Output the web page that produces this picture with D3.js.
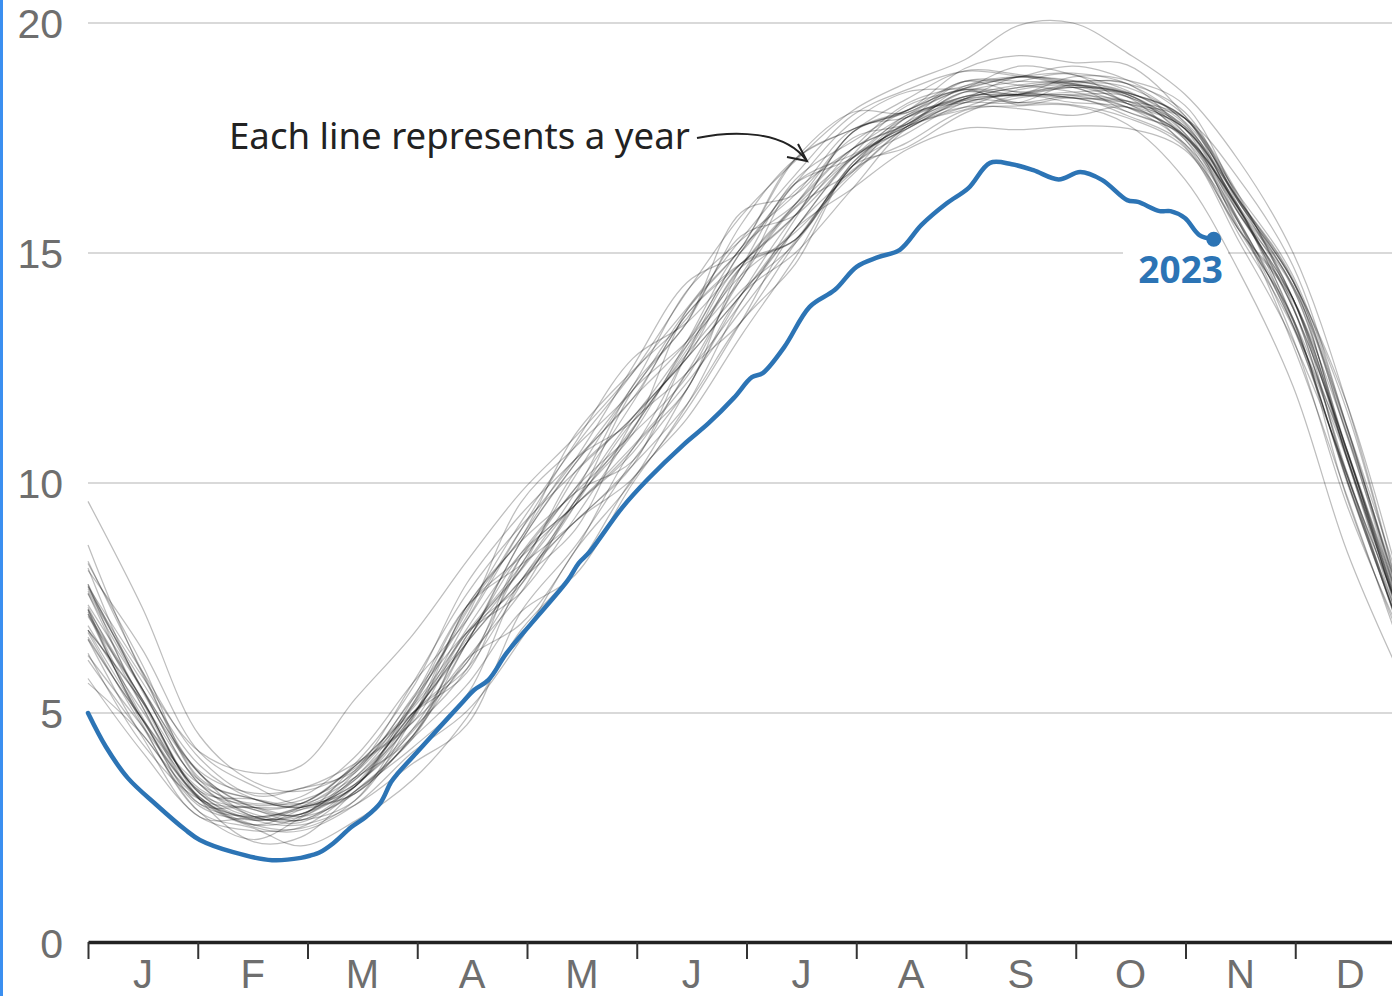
<!DOCTYPE html>
<html><head><meta charset="utf-8">
<script src="https://cdn.jsdelivr.net/npm/d3@7"></script>
<style>html,body{margin:0;padding:0;background:#fff;overflow:hidden}</style>
</head><body><svg id="chart" width="1392" height="996"></svg>
<script>
// ---- DATA ----
const sampleDays = [0,15,31,46,59,74,90,105,120,135,151,166,181,196,212,227,243,258,273,288,304,319,334,349,365];
const monthLabels = ["J","F","M","A","M","J","J","A","S","O","N","D"];
const yTicks = [0,5,10,15,20];

const y1987 = [9.6,7.3,4.5,3.5,3.3,3.8,5.1,6.6,8.1,9.6,11.2,12.9,14.7,16.0,17.1,17.7,18.35,18.6,18.7,18.6,17.85,16.25,14.5,11.2,7.0];
const y1988 = [7.7,5.8,4.15,3.7,3.85,5.3,6.7,8.3,9.8,11.0,12.4,13.8,15.3,16.7,18.0,18.55,18.95,18.85,18.75,18.5,17.8,15.9,13.8,10.7,6.9];
const y1989 = [6.9,5.05,3.35,3.0,3.1,3.7,5.2,7.2,9.15,10.8,12.4,14.16,15.8,17.0,18.1,18.7,19.2,19.95,20.0,19.35,18.45,17.0,15.0,11.7,7.1];
const y1990 = [7.2,4.85,3.15,2.7,2.8,3.4,4.9,6.83,8.47,9.52,10.8,12.18,13.75,15.26,16.81,17.4,18.1,18.2,18.2,17.8,16.6,14.6,12.1,8.5,5.6];
const y1991 = [7.8,5.53,3.45,2.8,2.67,3.1,4.9,7.32,8.81,11.05,12.44,13.58,15.37,15.82,17.07,17.75,18.17,18.55,18.65,18.48,17.93,16.2,14.0,10.5,6.5];
const y1992 = [6.6,4.49,2.74,2.72,2.62,3.4,5.0,5.96,7.79,9.52,12.02,13.49,15.62,17.04,17.69,18.1,18.73,18.65,18.5,18.17,17.37,15.4,13.37,10.15,6.9];
const y1993 = [8.25,6.06,3.58,3.13,2.95,3.45,4.6,6.18,6.94,8.53,10.75,12.04,14.69,16.06,17.5,17.8,18.5,18.27,18.42,18.3,17.75,16.15,14.38,11.7,7.4];
const y1994 = [7.15,5.3,3.12,2.2,2.3,3.3,4.45,6.53,8.47,9.79,10.48,12.4,13.5,15.21,16.9,17.85,18.35,18.83,18.73,18.68,17.6,16.0,13.52,10.05,6.5];
const y1995 = [6.3,4.34,3.12,2.95,3.03,3.85,5.15,6.75,8.22,10.15,12.02,13.08,14.52,15.45,16.71,17.75,18.5,18.45,18.83,18.76,18.21,16.15,14.23,10.7,6.75];
const y1996 = [7.6,5.25,3.25,2.67,2.95,3.75,5.65,7.59,9.07,10.24,11.43,12.72,14.09,15.53,17.14,18.2,18.58,19.06,18.88,18.53,17.7,15.5,13.57,9.65,6.35];
const y1997 = [5.75,4.16,2.74,2.44,2.52,3.3,4.25,5.39,7.88,9.16,10.39,12.81,14.77,15.29,16.9,17.3,18.04,18.42,18.27,18.17,17.55,15.95,14.0,10.05,6.55];
const y1998 = [8.65,5.86,3.68,2.95,2.8,3.7,5.3,6.75,7.62,9.25,11.16,12.99,15.03,16.51,17.86,18.5,18.58,18.83,18.6,18.25,17.93,16.6,14.71,11.2,7.1];
const y1999 = [7.35,5.53,3.73,3.26,3.36,3.9,4.8,6.1,7.88,9.52,11.34,12.4,13.92,15.74,17.63,18.1,18.55,18.22,18.37,17.99,17.37,15.65,13.14,9.5,6.5];
const y2000 = [6.8,5.25,3.25,2.67,2.57,3.0,3.9,4.74,7.2,8.62,10.48,12.04,14.09,15.0,16.41,17.7,18.12,18.37,18.5,18.45,17.47,15.5,13.95,10.7,7.1];
const y2001 = [7.65,5.68,3.86,3.13,2.98,3.55,5.0,6.53,8.73,10.42,12.11,14.18,15.28,16.27,17.69,17.95,18.4,18.45,18.42,18.17,17.55,15.95,14.28,11.15,6.9];
const y2002 = [6.25,4.72,3.17,2.57,2.9,3.4,5.3,7.32,8.22,9.16,10.39,11.71,13.5,14.76,16.97,17.8,18.5,18.73,18.88,18.25,17.7,15.7,13.42,10.5,6.85];
const y2003 = [8.1,6.39,4.14,3.41,3.03,3.6,4.5,6.68,8.13,10.24,11.43,12.99,14.43,16.51,17.14,17.75,18.17,18.14,17.99,18.17,17.52,15.85,14.0,11.05,7.2];
const y2004 = [7.25,4.92,3.02,2.75,2.9,3.25,4.45,5.61,7.2,8.0,10.0,11.6,13.5,15.53,16.77,17.95,18.35,18.42,18.37,18.3,17.93,16.1,14.38,11.55,7.05];
const y2005 = [6.65,4.87,3.45,3.03,3.18,4.05,5.65,7.02,8.98,10.87,12.71,13.49,14.77,15.82,17.27,18.25,18.63,18.83,18.91,18.68,17.83,15.95,13.8,10.15,6.55];
const y2006 = [7.8,5.15,3.12,2.72,2.75,3.55,4.85,7.32,8.73,9.79,11.16,13.76,15.11,17.04,18.06,18.05,18.73,18.5,18.65,18.4,17.32,15.65,13.57,10.55,6.7];
const y2007 = [6.75,4.72,2.84,2.25,2.72,3.4,4.95,6.53,7.88,9.16,10.1,11.7,13.92,15.53,17.07,17.95,18.32,18.27,18.22,17.94,17.29,15.25,13.09,10.2,6.4];
const y2008 = [7.1,5.3,3.3,3.13,3.03,3.9,5.55,7.82,9.32,10.51,11.84,13.67,14.77,15.29,16.9,17.75,18.35,18.6,18.73,18.68,18.06,16.1,14.38,11.2,7.45];
const y2009 = [7.75,5.53,3.45,2.75,2.67,3.3,4.5,6.68,8.13,9.79,12.11,13.49,15.88,16.27,17.63,18.35,18.96,18.88,18.68,18.4,17.75,15.85,14.23,10.65,6.9];
const y2010 = [6.8,5.25,3.53,3.13,2.95,3.45,4.65,5.96,8.39,9.52,10.66,12.4,14.43,15.98,16.77,17.75,18.27,18.45,18.37,18.07,17.52,15.65,12.99,9.7,6.15];
const y2011 = [8.15,5.48,3.68,2.95,3.03,3.85,4.8,6.75,7.79,9.61,11.07,13.08,15.11,16.06,17.27,17.8,18.63,18.83,18.65,18.3,17.7,16.1,14.0,10.55,6.7];
const y2012 = [7.3,5.15,3.12,2.52,2.44,3.0,4.15,5.04,6.6,8.53,10.06,12.04,14.09,15.82,17.07,17.7,18.32,18.45,18.6,18.45,17.6,15.95,13.8,10.7,6.5];
const y2013 = [5.65,4.54,2.97,2.67,2.8,3.6,5.15,7.25,8.81,10.51,11.34,12.81,14.18,15.21,16.9,17.95,18.4,18.65,18.73,18.48,17.93,16.0,13.42,10.15,6.9];
const y2014 = [7.75,5.91,4.01,3.21,3.36,3.75,5.35,7.1,9.58,10.78,12.02,13.76,15.11,17.04,17.69,18.1,19.01,19.29,19.14,19.09,17.98,16.15,14.38,10.5,6.85];
const y2015 = [7.15,4.87,3.17,2.57,2.49,3.1,4.95,6.53,7.88,8.98,11.34,12.72,14.09,15.53,16.41,17.25,17.71,17.68,17.76,17.71,17.24,15.5,14.0,10.55,6.7];
const y2016 = [6.8,4.87,3.02,2.95,2.75,3.25,4.65,6.53,8.73,10.42,11.84,13.08,15.03,16.35,17.27,18.0,18.58,18.83,19.06,18.76,17.98,16.25,13.85,10.2,6.4];
const y2017 = [7.6,5.53,3.68,2.75,2.95,3.4,5.2,7.32,8.39,9.52,10.75,12.81,14.69,16.59,17.43,18.1,18.55,18.45,18.6,18.48,17.93,15.85,14.0,10.65,7.05];
const y2018 = [7.25,5.3,3.25,2.9,2.67,3.45,5.0,6.1,8.22,9.88,11.07,12.31,14.52,16.06,17.27,17.8,18.4,18.42,18.45,18.4,17.55,16.0,14.28,11.05,6.85];
const y2019 = [6.6,4.87,3.3,2.75,2.95,3.25,4.5,6.18,7.62,9.61,11.43,12.72,14.69,15.29,16.97,17.85,18.73,18.73,18.68,18.45,17.7,16.15,14.43,11.0,7.2];
const y2020 = [8.3,5.91,3.53,2.9,2.8,3.6,4.95,7.02,8.98,10.51,12.53,14.36,15.03,16.51,17.07,18.0,18.27,18.27,18.65,18.25,17.47,15.7,13.42,10.65,6.75];
const y2021 = [7.25,4.77,2.84,2.49,2.11,2.65,3.55,4.9,6.8,8.1,10.1,11.4,13.2,14.9,16.9,17.6,18.27,18.45,18.6,18.07,17.52,15.55,13.52,10.0,6.55];
const y2022 = [6.15,4.54,3.12,2.57,2.75,3.85,5.0,5.88,8.39,9.88,11.75,13.67,14.77,15.82,17.63,18.05,18.55,18.5,18.37,18.25,17.7,15.95,13.57,10.05,6.7];

const pastYears = [y1987,y1988,y1989,y1990,y1991,y1992,y1993,y1994,y1995,y1996,y1997,y1998,
  y1999,y2000,y2001,y2002,y2003,y2004,y2005,y2006,y2007,y2008,y2009,y2010,y2011,y2012,
  y2013,y2014,y2015,y2016,y2017,y2018,y2019,y2020,y2021,y2022];

const days2023 = [0,5,11,19,27,31,40,51,59,62,64,68,73,77,81,84,86,91,95,100,104,107,111,116,123,133,136,139,148,155,165,172,179,184,187,193,200,207,213,219,225,231,238,244,250,256,262,269,275,281,288,291,297,300,304,308,312];
const values2023 = [5.0,4.26,3.59,3.0,2.46,2.24,1.98,1.8,1.85,1.91,1.96,2.17,2.52,2.74,3.04,3.5,3.7,4.13,4.48,4.91,5.25,5.5,5.72,6.3,6.96,7.89,8.26,8.5,9.46,10.07,10.83,11.3,11.85,12.3,12.39,12.96,13.83,14.2,14.7,14.91,15.07,15.61,16.08,16.41,16.96,16.93,16.8,16.6,16.76,16.59,16.15,16.11,15.91,15.91,15.76,15.39,15.3];

const annotationText = "Each line represents a year";
const highlightLabel = "2023";

// ---- DRAW ----
const W = 1392, H = 996;
const svg = d3.select("#chart");
const FONT = "'Noto Sans', 'DejaVu Sans', sans-serif";
const AXFONT = "'Liberation Sans', Arial, sans-serif";

const x = d3.scaleLinear().domain([0, 365]).range([88, 1405]);
const y = d3.scaleLinear().domain([0, 20]).range([943, 23]);

svg.append("rect").attr("width", W).attr("height", H).attr("fill", "#fff");
svg.append("rect").attr("x", 0).attr("y", 0).attr("width", 3).attr("height", H).attr("fill", "#3b8ff0");

// gridlines
svg.append("g").selectAll("line").data(yTicks.filter(v => v > 0)).join("line")
  .attr("x1", 88).attr("x2", W).attr("y1", d => y(d)).attr("y2", d => y(d))
  .attr("stroke", "#cccccc").attr("stroke-width", 1.5);

// y labels
svg.append("g").selectAll("text").data(yTicks).join("text")
  .attr("x", 63).attr("y", d => y(d) + 15).attr("text-anchor", "end")
  .attr("font-family", AXFONT).attr("font-size", 41).attr("fill", "#6e6e6e")
  .text(d => d);

// label background knock-out
svg.append("rect").attr("x", 1123).attr("y", 246).attr("width", 105).attr("height", 44).attr("fill", "#fff");

// gray year lines
const grayLine = d3.line().x((d, i) => x(sampleDays[i])).y(d => y(d)).curve(d3.curveCatmullRom.alpha(0.5));
svg.append("g").selectAll("path").data(pastYears).join("path")
  .attr("d", grayLine).attr("fill", "none")
  .attr("stroke", "#000").attr("stroke-opacity", 0.26).attr("stroke-width", 1.25);

// x axis
const tickVals = d3.range(13).map(i => i * 365 / 12);
const axis = svg.append("g").attr("transform", `translate(0,${y(0) - 1})`)
  .call(d3.axisBottom(x).tickValues(tickVals).tickSize(17).tickSizeOuter(0).tickFormat(""));
axis.select(".domain").attr("stroke", "#222").attr("stroke-width", 3.5);
axis.selectAll(".tick line").attr("stroke", "#333").attr("stroke-width", 2);

svg.append("g").selectAll("text").data(monthLabels).join("text")
  .attr("x", (d, i) => x((i + 0.5) * 365 / 12)).attr("y", 988)
  .attr("text-anchor", "middle").attr("font-family", AXFONT).attr("font-size", 40)
  .attr("fill", "#6e6e6e").text(d => d);

// 2023 line
const blueLine = d3.line().x((d, i) => x(days2023[i])).y(d => y(d)).curve(d3.curveCatmullRom.alpha(0.5));
svg.append("path").datum(values2023).attr("d", blueLine).attr("fill", "none")
  .attr("stroke", "#2c74b5").attr("stroke-width", 4.5).attr("stroke-linejoin", "round").attr("stroke-linecap", "round");
const last = values2023.length - 1;
svg.append("circle").attr("cx", x(days2023[last])).attr("cy", y(values2023[last])).attr("r", 7.5).attr("fill", "#2c74b5");
svg.append("text").attr("x", 1223).attr("y", 283).attr("text-anchor", "end")
  .attr("font-family", FONT).attr("font-weight", 700).attr("font-size", 37).attr("fill", "#2c74b5")
  .text(highlightLabel);

// annotation
const ann = svg.append("text").attr("x", 229).attr("y", 149)
  .attr("font-family", FONT).attr("font-size", 35).attr("fill", "#222").text(annotationText);
const len = ann.node().getComputedTextLength();
ann.attr("font-size", 35 * 461 / len);
svg.append("path").attr("d", "M697,138 C735,130 785,131 806,160").attr("fill", "none")
  .attr("stroke", "#222").attr("stroke-width", 2);
svg.append("path").attr("d", "M787,157 L807,161 L798,144").attr("fill", "none")
  .attr("stroke", "#222").attr("stroke-width", 2).attr("stroke-linejoin", "miter");
</script></body></html>
